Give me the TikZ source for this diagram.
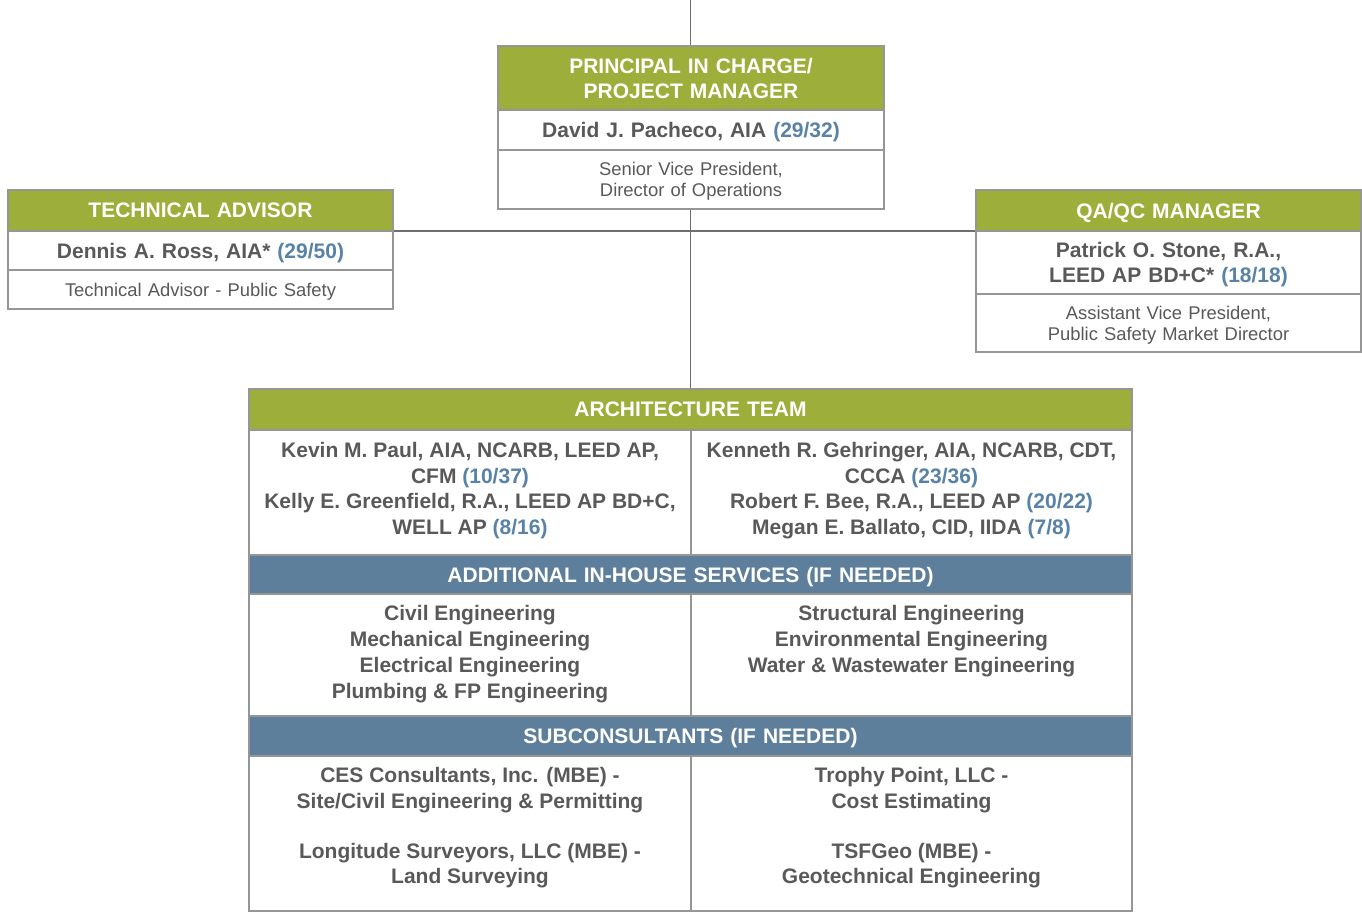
\documentclass[tikz,border=0pt]{standalone}
\usepackage{fontspec}
\setmainfont{Liberation Sans}
\usetikzlibrary{positioning,backgrounds}
\definecolor{leafgreen}{RGB}{157,175,58}
\definecolor{slateblue}{RGB}{94,127,156}
\definecolor{inkgrey}{RGB}{89,89,89}
\definecolor{numblue}{RGB}{88,130,166}
\definecolor{edgegrey}{RGB}{150,150,150}
\definecolor{linkgrey}{RGB}{110,110,110}
\newcommand{\yrs}[1]{\textcolor{numblue}{(#1)}}
\tikzset{
  cell/.style={draw=edgegrey,line width=1.2pt,fill=white,inner sep=0pt,outer sep=0pt,
               align=center,text=inkgrey},
  oneline/.style={text depth=0pt},
  twoline/.style={text depth=25pt},
  hdrg/.style={cell,fill=leafgreen,text=white,font=\bfseries\fontsize{21}{25}\selectfont},
  hdrb/.style={hdrg,fill=slateblue},
  namec/.style={cell,font=\bfseries\fontsize{21}{25}\selectfont},
  rolec/.style={cell,font=\fontsize{18.4}{21}\selectfont},
  tworole/.style={rolec,text depth=21pt},
  body/.style={inner sep=0pt,align=center,text=inkgrey,font=\bfseries\fontsize{21}{25.7}\selectfont},
  link/.style={draw=linkgrey,line width=1.2pt},
}

\begin{document}
\begin{tikzpicture}[x=1pt,y=1pt]
  \useasboundingbox (0,0) rectangle (1362,-911);

  % principal in charge
  \node[hdrg,twoline,anchor=north west,text width=386pt,minimum height=64pt] (pic) at (498,-46)
    {PRINCIPAL IN CHARGE/\\PROJECT MANAGER};
  \node[namec,oneline,below=0pt of pic,text width=386pt,minimum height=40pt] (picname)
    {David J. Pacheco, AIA \yrs{29/32}};
  \node[tworole,below=0pt of picname,text width=386pt,minimum height=59pt] (picrole)
    {Senior Vice President,\\Director of Operations};

  % technical advisor
  \node[hdrg,oneline,anchor=north west,text width=385pt,minimum height=41pt] (tadv) at (8,-190)
    {TECHNICAL ADVISOR};
  \node[namec,oneline,below=0pt of tadv,text width=385pt,minimum height=39pt] (tadvname)
    {Dennis A. Ross, AIA* \yrs{29/50}};
  \node[rolec,oneline,below=0pt of tadvname,text width=385pt,minimum height=39pt] (tadvrole)
    {Technical Advisor - Public Safety};

  % qa/qc manager
  \node[hdrg,oneline,anchor=north west,text width=385pt,minimum height=41pt] (qaqc) at (976,-190)
    {QA/QC MANAGER};
  \node[namec,twoline,below=0pt of qaqc,text width=385pt,minimum height=63pt] (qaqcname)
    {Patrick O. Stone, R.A.,\\LEED AP BD+C* \yrs{18/18}};
  \node[tworole,below=0pt of qaqcname,text width=385pt,minimum height=58pt] (qaqcrole)
    {Assistant Vice President,\\Public Safety Market Director};

  % architecture team
  \node[hdrg,oneline,anchor=north west,text width=883pt,minimum height=41pt] (arch) at (249,-389)
    {ARCHITECTURE TEAM};
  \node[cell,below right=0pt and 0pt of arch.south west,minimum width=442pt,minimum height=125pt] (teaml) {};
  \node[cell,right=0pt of teaml,minimum width=441pt,minimum height=125pt] (teamr) {};
  \node[hdrb,oneline,below right=0pt and 0pt of teaml.south west,text width=883pt,minimum height=39pt] (inhouse)
    {ADDITIONAL IN-HOUSE SERVICES (IF NEEDED)};
  \node[cell,below right=0pt and 0pt of inhouse.south west,minimum width=442pt,minimum height=122pt] (servl) {};
  \node[cell,right=0pt of servl,minimum width=441pt,minimum height=122pt] (servr) {};
  \node[hdrb,oneline,below right=0pt and 0pt of servl.south west,text width=883pt,minimum height=40pt] (subc)
    {SUBCONSULTANTS (IF NEEDED)};
  \node[cell,below right=0pt and 0pt of subc.south west,minimum width=442pt,minimum height=155pt] (subl) {};
  \node[cell,right=0pt of subl,minimum width=441pt,minimum height=155pt] (subr) {};

  \node[body,below=12pt of teaml.north] (teamltxt)
    {Kevin M. Paul, AIA, NCARB, LEED AP,\\CFM \yrs{10/37}\\
     Kelly E. Greenfield, R.A., LEED AP BD+C,\\WELL AP \yrs{8/16}};
  \node[body,below=12pt of teamr.north] (teamrtxt)
    {Kenneth R. Gehringer, AIA, NCARB, CDT,\\CCCA \yrs{23/36}\\
     Robert F. Bee, R.A., LEED AP \yrs{20/22}\\Megan E. Ballato, CID, IIDA \yrs{7/8}};
  \node[body,below=11.5pt of servl.north] (servltxt)
    {Civil Engineering\\Mechanical Engineering\\Electrical Engineering\\Plumbing \& FP Engineering};
  \node[body,below=11.5pt of servr.north] (servrtxt)
    {Structural Engineering\\Environmental Engineering\\Water \& Wastewater Engineering};
  \node[body,below=11.5pt of subl.north] (subltxt)
    {CES Consultants, Inc. (MBE) -\\Site/Civil Engineering \& Permitting\\[23.7pt]
     Longitude Surveyors, LLC (MBE) -\\Land Surveying};
  \node[body,below=11.5pt of subr.north] (subrtxt)
    {Trophy Point, LLC -\\Cost Estimating\\[23.7pt]TSFGeo (MBE) -\\Geotechnical Engineering};

  % reporting lines
  \coordinate (topend) at (690.5,0);
  \begin{scope}[on background layer]
    \draw[link] (topend) -- (arch.north);
    \draw[link] (tadv.south east) -- (qaqc.south west);
  \end{scope}
\end{tikzpicture}
\end{document}
